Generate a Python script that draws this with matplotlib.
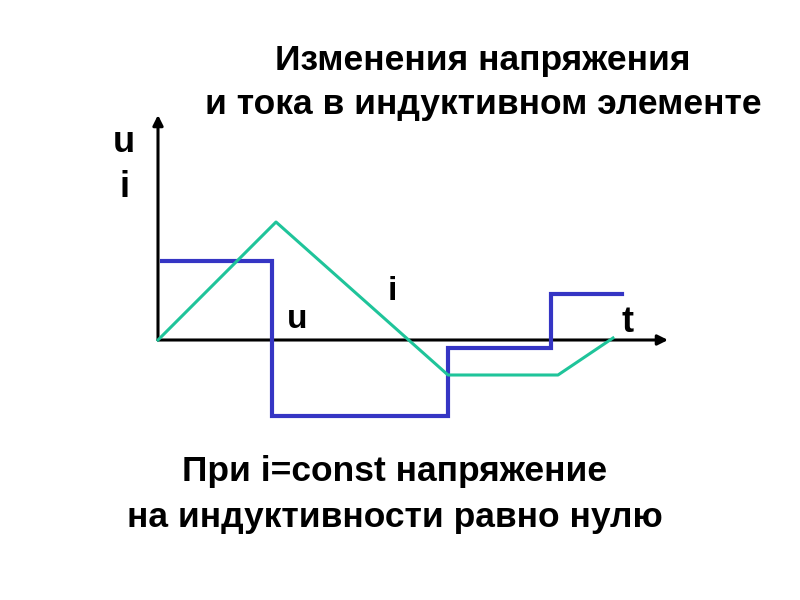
import numpy as np
import matplotlib.pyplot as plt

plt.rcParams['font.family'] = ['Liberation Sans', 'DejaVu Sans']

# напряжение u (ступенчатое)
t_u = [0.4, 11.4, 11.4, 29.0, 29.0, 39.3, 39.3, 46.4]
u = [7.9, 7.9, -7.6, -7.6, -0.8, -0.8, 4.6, 4.6]

# ток i (ломаная)
t_i = [0.0, 11.8, 29.0, 40.0, 45.5]
i = [0.0, 11.8, -3.5, -3.5, 0.2]

t_max = 51.0
v_max = 22.5

fig = plt.figure(figsize=(8, 6), dpi=100)
ax = fig.add_axes([0, 0, 1, 1])
ax.set_xlim(-15.8, 64.2)
ax.set_ylim(-26, 34)
ax.axis('off')

# оси со стрелками
arrow = dict(arrowstyle='-|>', lw=2.2, color='black', mutation_scale=15, shrinkA=0, shrinkB=0)
ax.annotate('', xy=(t_max, 0), xytext=(0, 0), arrowprops=arrow)
ax.annotate('', xy=(0, v_max), xytext=(0, 0), arrowprops=arrow)

ax.plot(t_u, u, color='#3535c4', lw=3.0, solid_joinstyle='miter', zorder=3)
ax.plot(t_i, i, color='#1fc49a', lw=2.2, zorder=4)

bold = dict(fontweight='bold', color='black')
fig.text(0.603, 0.899, 'Изменения напряжения', ha='center', va='center', fontsize=25.5, **bold)
fig.text(0.604, 0.826, 'и тока в индуктивном элементе', ha='center', va='center', fontsize=25.5, **bold)
fig.text(0.493, 0.215, 'При i=const напряжение', ha='center', va='center', fontsize=25.5, **bold)
fig.text(0.493, 0.137, 'на индуктивности равно нулю', ha='center', va='center', fontsize=25.5, **bold)

fig.text(0.155, 0.763, 'u', ha='center', va='center', fontsize=26, **bold)
fig.text(0.155, 0.687, 'i', ha='center', va='center', fontsize=26, **bold)
fig.text(0.372, 0.468, 'u', ha='center', va='center', fontsize=24, **bold)
fig.text(0.491, 0.515, 'i', ha='center', va='center', fontsize=24, **bold)
fig.text(0.785, 0.463, 't', ha='center', va='center', fontsize=26, **bold)

fig.savefig('out.png', dpi=100, facecolor='white')
